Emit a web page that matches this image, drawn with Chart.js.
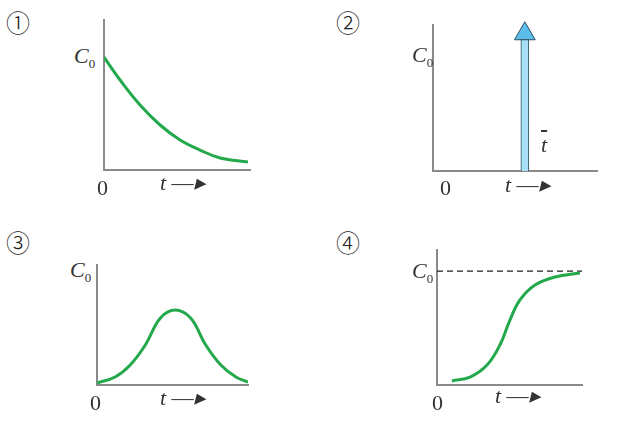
<!DOCTYPE html>
<html>
<head>
<meta charset="utf-8">
<script src="https://cdn.jsdelivr.net/npm/chart.js@4"></script>
<style>
  body { margin: 0; background: #fff; width: 634px; height: 423px; position: relative; overflow: hidden; }
  canvas { position: absolute; }
  .lbl { position: absolute; font-family: "Liberation Serif", serif; color: #333; white-space: nowrap; }
  .num { font-size: 24px; font-family: "Noto Sans CJK SC", sans-serif; font-weight: 300; color: #222; }
  .c0 { font-size: 22px; font-style: italic; }
  .c0 sub { font-size: 13px; font-style: normal; }
  .zero { font-size: 22px; }
  .t { font-size: 22px; font-style: italic; }
</style>
</head>
<body>
<canvas id="p1" width="152" height="160" style="left:102px;top:14px"></canvas>
<canvas id="p2" width="190" height="172" style="left:420px;top:12px"></canvas>
<canvas id="p3" width="157" height="130" style="left:95px;top:257px"></canvas>
<canvas id="p4" width="151" height="145" style="left:435px;top:242px"></canvas>

<div class="lbl num" style="left:6px;top:4px">①</div>
<div class="lbl num" style="left:336px;top:4px">②</div>
<div class="lbl num" style="left:6px;top:224px">③</div>
<div class="lbl num" style="left:336px;top:224px">④</div>

<div class="lbl c0" style="left:74px;top:43px">C<sub>0</sub></div>
<div class="lbl zero" style="left:97px;top:175px">0</div>
<div class="lbl t" style="left:160px;top:170px">t &#x2015;&#x25B8;</div>

<div class="lbl c0" style="left:412px;top:42px">C<sub>0</sub></div>
<div class="lbl zero" style="left:440px;top:175px">0</div>
<div class="lbl t" style="left:505px;top:172px">t &#x2015;&#x25B8;</div>
<div class="lbl t" style="left:541px;top:132px;text-decoration:overline">t</div>

<div class="lbl c0" style="left:70px;top:257px">C<sub>0</sub></div>
<div class="lbl zero" style="left:90px;top:390px">0</div>
<div class="lbl t" style="left:160px;top:385px">t &#x2015;&#x25B8;</div>

<div class="lbl c0" style="left:412px;top:258px">C<sub>0</sub></div>
<div class="lbl zero" style="left:432px;top:390px">0</div>
<div class="lbl t" style="left:495px;top:383px">t &#x2015;&#x25B8;</div>

<script>
// panel 1: decay from C0
let decayX = [0, 0.11, 0.247, 0.384, 0.521, 0.658, 0.795, 0.986];
let decayY = [0.753, 0.60, 0.433, 0.30, 0.20, 0.133, 0.08, 0.053];
// panel 2: pulse at t-bar
let pulseX = [0.59];
let pulseY = [0.9];
let pulseHead = [0.94];
// panel 3: bell curve
let bellX = [0, 0.12, 0.22, 0.32, 0.42, 0.517, 0.62, 0.72, 0.82, 0.92, 1.0];
let bellY = [0.017, 0.067, 0.167, 0.333, 0.558, 0.625, 0.558, 0.333, 0.167, 0.067, 0.025];
// panel 4: sigmoid approaching C0
let sigX = [0.103, 0.228, 0.345, 0.434, 0.503, 0.572, 0.676, 0.814, 0.986];
let sigY = [0.03, 0.059, 0.148, 0.296, 0.481, 0.630, 0.741, 0.800, 0.830];
let c0Level = 0.844;

const green = "#23a84b";
const axisColor = "#8a8a8a";

let pts = (xs, ys) => xs.map((x, i) => ({ x: x, y: ys[i] }));

let baseOptions = (pad) => ({
  responsive: false,
  devicePixelRatio: 1,
  animation: false,
  layout: { padding: pad },
  plugins: { legend: { display: false }, tooltip: { enabled: false } },
  scales: {
    x: {
      type: "linear", min: 0, max: 1,
      grid: { display: false, drawTicks: false },
      ticks: { display: false },
      border: { display: true, color: axisColor, width: 2 },
    },
    y: {
      min: 0, max: 1,
      grid: { display: false, drawTicks: false },
      ticks: { display: false },
      border: { display: true, color: axisColor, width: 2 },
    },
  },
});

let curve = (data) => ({
  type: "line",
  data: data,
  borderColor: green,
  borderWidth: 3,
  pointRadius: 0,
  tension: 0.4,
  fill: false,
});

new Chart(document.querySelector("#p1"), {
  type: "line",
  data: { datasets: [curve(pts(decayX, decayY))] },
  options: baseOptions({ left: 2, top: 6, right: 4, bottom: 4 }),
});

new Chart(document.querySelector("#p2"), {
  type: "line",
  data: {
    datasets: [
      {
        type: "bar",
        data: pts(pulseX, pulseY),
        backgroundColor: "#a9def7",
        borderColor: "#2f4f63",
        borderWidth: 1,
        barThickness: 8,
      },
      {
        type: "scatter",
        data: pts(pulseX, pulseHead),
        pointStyle: "triangle",
        pointRadius: 12,
        backgroundColor: "#5bbde9",
        borderColor: "#2f4f63",
        borderWidth: 1,
        clip: false,
      },
    ],
  },
  options: baseOptions({ left: 2, top: 8, right: 4, bottom: 2 }),
});

new Chart(document.querySelector("#p3"), {
  type: "line",
  data: { datasets: [curve(pts(bellX, bellY))] },
  options: baseOptions({ left: 2, top: 8, right: 4, bottom: 2 }),
});

new Chart(document.querySelector("#p4"), {
  type: "line",
  data: {
    datasets: [
      curve(pts(sigX, sigY)),
      {
        type: "line",
        data: pts([0, 1], [c0Level, c0Level]),
        borderColor: "#222",
        borderWidth: 1.2,
        borderDash: [6, 4],
        pointRadius: 0,
      },
    ],
  },
  options: baseOptions({ left: 2, top: 8, right: 4, bottom: 2 }),
});
</script>
</body>
</html>
